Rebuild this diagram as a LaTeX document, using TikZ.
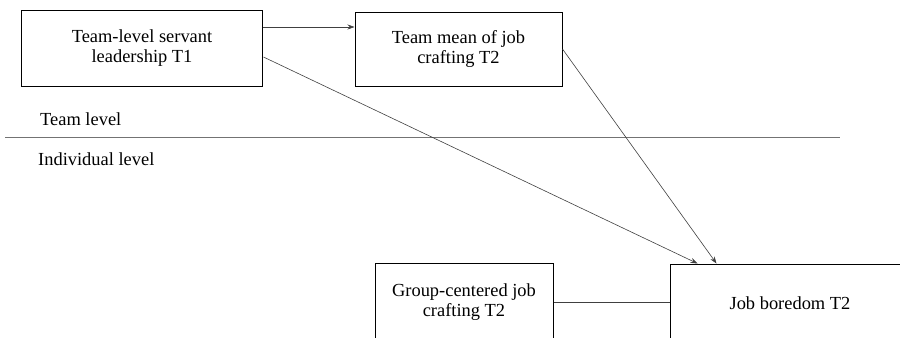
\documentclass[tikz,border=0pt]{standalone}
\usepackage{fontspec}
\setmainfont{Liberation Serif}
\usetikzlibrary{arrows.meta,calc}
\begin{document}
\begin{tikzpicture}[x=1bp,y=-1bp,
  box/.style={draw=black,line width=1bp,inner sep=0pt,align=center,
    font=\fontsize{18.5}{20.5}\selectfont},
  conn/.style={draw=black!75,line width=0.6bp},
  arr/.style={conn,-{Stealth[length=7bp,width=5bp]}},
  lvl/.style={inner sep=0pt,font=\fontsize{18.5}{20.5}\selectfont}]
\useasboundingbox (0,0) rectangle (900,337);
\clip (0,0) rectangle (900,337);
\node[box,minimum width=240bp,minimum height=76bp] (b1) at (142,48) {Team-level servant\\leadership T1};
\node[box,minimum width=207bp,minimum height=74bp] (b2) at (458.5,49) {Team mean of job\\crafting T2};
\node[box,minimum width=178bp,minimum height=78bp] (b3) at (464,302) {Group-centered job\\crafting T2};
\node[box,minimum width=240bp,minimum height=78bp] (b4) at (790,303) {Job boredom T2};
\coordinate (sl) at (5,137);
\coordinate (sr) at (840,137);
\draw[draw=black!55,line width=1bp] (sl) -- (sr);
\node[lvl,anchor=base west] (tl) at (40,125) {Team level};
\node[lvl,anchor=base west] (il) at (38,165) {Individual level};
\draw[arr] ($(b1.east)+(0,-21)$) -- ($(b2.west)+(0,-22)$);
\draw[arr] ($(b1.east)+(1,9)$) -- ($(b4.north west)+(28,0)$);
\draw[arr] (b2.east) -- ($(b4.north west)+(47,0)$);
\draw[conn] (b3.east) -- (b3.east -| b4.west);
\end{tikzpicture}
\end{document}
